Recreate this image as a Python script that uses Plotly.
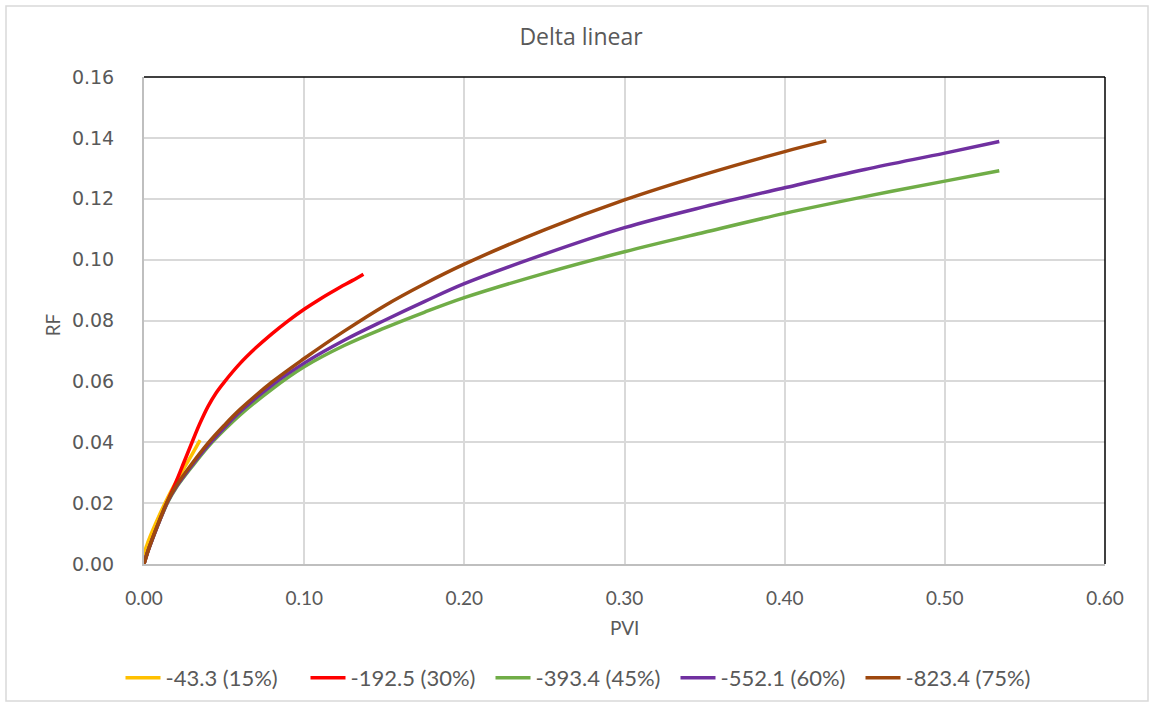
import plotly.graph_objects as go

# ---- data ----
names = ["-43.3 (15%)", "-192.5 (30%)", "-393.4 (45%)", "-552.1 (60%)", "-823.4 (75%)"]
colors = ["#FFC000", "#FF0000", "#70AD47", "#7030A0", "#9E480E"]

pvi_15 = [0.0, 0.0005, 0.002, 0.005, 0.010, 0.015, 0.020, 0.025, 0.030, 0.035]
rf_15 = [0.0, 0.004, 0.0065, 0.0105, 0.0165, 0.022, 0.027, 0.0315, 0.036, 0.0407]

pvi_30 = [0.0, 0.002, 0.005, 0.01, 0.015, 0.02, 0.025, 0.03, 0.035, 0.04, 0.045, 0.05,
          0.06, 0.07, 0.08, 0.09, 0.10, 0.11, 0.12, 0.13, 0.137]
rf_30 = [0.0, 0.0035, 0.008, 0.0146, 0.021, 0.027, 0.0335, 0.040, 0.0463, 0.0518, 0.0562, 0.0597,
         0.0659, 0.0711, 0.0757, 0.0799, 0.0837, 0.0871, 0.0902, 0.0931, 0.0952]

pvi_45 = [0.0, 0.002, 0.005, 0.01, 0.015, 0.02, 0.03, 0.04, 0.05, 0.06, 0.08, 0.10, 0.125,
          0.15, 0.175, 0.2, 0.25, 0.3, 0.35, 0.4, 0.45, 0.5, 0.534]
rf_45 = [0.0, 0.0035, 0.0078, 0.0145, 0.0205, 0.025, 0.032, 0.0385, 0.044, 0.049, 0.0575, 0.0648, 0.0718,
         0.0775, 0.0827, 0.0875, 0.0955, 0.1026, 0.109, 0.1152, 0.1207, 0.1258, 0.1292]

pvi_60 = [0.0, 0.002, 0.005, 0.01, 0.015, 0.02, 0.03, 0.04, 0.05, 0.06, 0.08, 0.10, 0.125,
          0.15, 0.175, 0.2, 0.25, 0.3, 0.35, 0.4, 0.45, 0.5, 0.534]
rf_60 = [0.0, 0.0035, 0.0078, 0.0146, 0.0207, 0.0253, 0.0325, 0.039, 0.0447, 0.050, 0.0588, 0.066, 0.0735,
         0.080, 0.0862, 0.0921, 0.1018, 0.1105, 0.1174, 0.1236, 0.1296, 0.135, 0.1388]

pvi_75 = [0.0, 0.002, 0.005, 0.01, 0.015, 0.02, 0.03, 0.04, 0.05, 0.06, 0.08, 0.10, 0.125,
          0.15, 0.175, 0.2, 0.25, 0.3, 0.35, 0.4, 0.426]
rf_75 = [0.0, 0.0035, 0.008, 0.0148, 0.021, 0.0256, 0.033, 0.0397, 0.0455, 0.0508, 0.0598, 0.0675, 0.0765,
         0.0848, 0.092, 0.0985, 0.1098, 0.1196, 0.128, 0.1355, 0.139]

series_x = [pvi_15, pvi_30, pvi_45, pvi_60, pvi_75]
series_y = [rf_15, rf_30, rf_45, rf_60, rf_75]

x_ticks = [0.0, 0.1, 0.2, 0.3, 0.4, 0.5, 0.6]
y_ticks = [0.0, 0.02, 0.04, 0.06, 0.08, 0.10, 0.12, 0.14, 0.16]

TXT = "#595959"

fig = go.Figure()
for i in range(5):
    fig.add_trace(go.Scatter(
        x=series_x[i], y=series_y[i], mode="lines", name=names[i],
        line=dict(color=colors[i], width=3.5, shape="spline", smoothing=1.0),
    ))

fig.update_layout(
    width=1151, height=704,
    margin=dict(l=144, r=46, t=77, b=140),
    paper_bgcolor="white", plot_bgcolor="white",
    title=dict(text="Delta linear", x=581 / 1151, xanchor="center", xref="container",
               y=1 - 37 / 704, yanchor="middle", yref="container",
               font=dict(family="Open Sans", size=23, color=TXT)),
    showlegend=True,
    legend=dict(orientation="h", xref="container", x=583 / 1151, xanchor="center",
                yref="container", y=(704 - 678) / 704, yanchor="middle",
                bgcolor="rgba(0,0,0,0)",
                font=dict(family="Lato", size=22, color=TXT),
                entrywidth=135, entrywidthmode="pixels", itemwidth=35),
    xaxis=dict(range=[0, 0.6], tickvals=x_ticks, tickformat=".2f",
               showgrid=True, gridcolor="#d9d9d9", gridwidth=2,
               showline=True, linecolor="#bfbfbf", linewidth=2,
               ticks="", ticklabelstandoff=16, zeroline=False,
               tickfont=dict(family="Lato", size=19, color=TXT)),
    yaxis=dict(range=[0, 0.16], tickvals=y_ticks, tickformat=".2f",
               showgrid=True, gridcolor="#d9d9d9", gridwidth=2,
               showline=True, linecolor="#bfbfbf", linewidth=2,
               ticks="", ticklabelstandoff=24, zeroline=False,
               tickfont=dict(family="DejaVu Sans", size=19, color=TXT)),
    annotations=[
        dict(text="PVI", xref="paper", yref="paper", x=0.5, y=(564 - 627) / 487,
             showarrow=False, xanchor="center", yanchor="middle",
             font=dict(family="Lato", size=19, color=TXT)),
        dict(text="RF", xref="paper", yref="paper", x=(52 - 144) / 961, y=0.49,
             showarrow=False, xanchor="center", yanchor="middle", textangle=-90,
             font=dict(family="Lato", size=19, color=TXT)),
    ],
    shapes=[
        dict(type="line", xref="paper", yref="paper", x0=0, x1=1, y0=1, y1=1,
             line=dict(color="#000000", width=1.5), layer="above"),
        dict(type="line", xref="paper", yref="paper", x0=1, x1=1, y0=0, y1=1,
             line=dict(color="#000000", width=1.5), layer="above"),
        dict(type="rect", xref="paper", yref="paper",
             x0=(6 - 144) / 961, x1=(1148 - 144) / 961,
             y0=(564 - 701) / 487, y1=(564 - 6) / 487,
             line=dict(color="#d9d9d9", width=1.5), layer="below"),
    ],
)

fig.write_html("out.html")
